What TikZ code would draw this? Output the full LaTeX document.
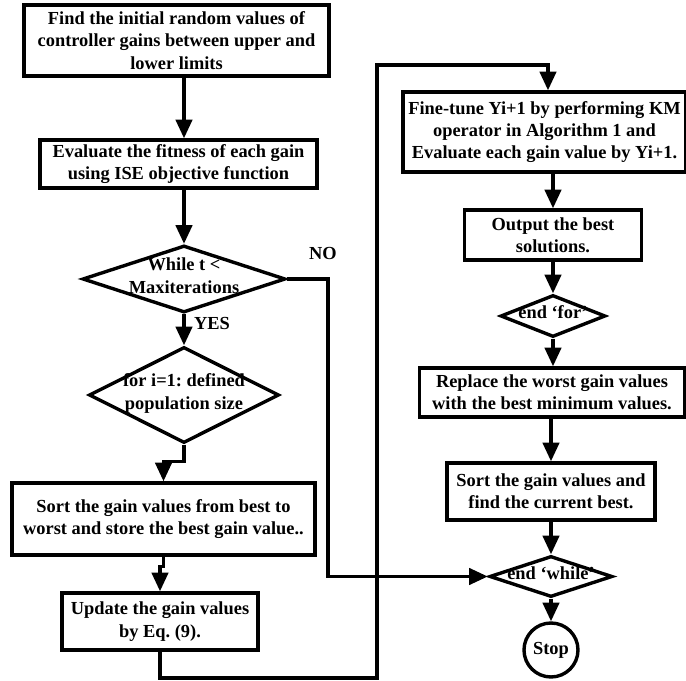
\documentclass[tikz,border=0pt]{standalone}
\usepackage{fontspec}
\setmainfont{Liberation Serif}
\usetikzlibrary{positioning,arrows.meta,shapes.geometric}
\newcommand{\dtext}[1]{\raisebox{-.3em}{\smash{\makebox[0pt]{\begin{tabular}{@{}c@{}}#1\end{tabular}}}}}

\begin{document}
\begin{tikzpicture}[x=0.03cm,y=-0.03cm,>={Triangle[length=16pt,width=14pt]},line width=2.9pt,
  txt/.style={font=\fontsize{15.7}{19}\selectfont\bfseries\frenchspacing},
  box/.style={txt,draw,rectangle,inner sep=1pt,align=center},
  dec/.style={txt,draw,diamond,inner sep=0pt}]
\useasboundingbox (0,0) rectangle (686,681);
\node[box,minimum width=9.15cm,minimum height=2.13cm] (init) at (176.5,40.5) {Find the initial random values of\\controller gains between upper and\\lower limits};
\node[box,minimum width=8.31cm,minimum height=1.44cm] (fit) at (178.5,164) {Evaluate the fitness of each gain\\using ISE objective function};
\node[dec,minimum width=6.09cm,minimum height=2.01cm] (while) at (184,279) {\dtext{While t <\\Maxiterations}};
\node[dec,minimum width=5.7cm,minimum height=2.88cm] (for) at (184,395) {\dtext{for i=1: defined\\population size}};
\node[box,minimum width=9.09cm,minimum height=2.16cm] (sort) at (163.5,519) {Sort the gain values from best to\\worst and store the best gain value..};
\node[box,minimum width=5.88cm,minimum height=1.71cm] (upd) at (160,621.5) {Update the gain values\\by Eq. (9).};
\node[box,minimum width=8.49cm,minimum height=2.4cm] (tune) at (544.5,132) {Fine-tune Yi+1 by performing KM\\operator in Algorithm 1 and\\Evaluate each gain value by Yi+1.};
\node[box,minimum width=5.31cm,minimum height=1.5cm] (out) at (553,235) {Output the best\\solutions.};
\node[dec,minimum width=3.15cm,minimum height=1.26cm] (endfor) at (553,316) {\dtext{end `for'}};
\node[box,minimum width=7.95cm,minimum height=1.47cm] (repl) at (552,392.5) {Replace the worst gain values\\with the best minimum values.};
\node[box,minimum width=6.24cm,minimum height=1.71cm] (cur) at (551,491.5) {Sort the gain values and\\find the current best.};
\node[dec,minimum width=3.69cm,minimum height=1.23cm] (endwhile) at (551,576.5) {\dtext{end `while'}};
\node[txt,draw,circle,minimum size=1.62cm,inner sep=0pt] (stop) at (551,650) {Stop};
\node[txt] (no) at (323,254) {NO};
\node[txt] (yes) at (212,324) {YES};
\coordinate (noc) at (328,576.5);
\coordinate (lb) at (377,678);
\coordinate (lt) at (377,65);
% left column
\draw[->] (while.north |- init.south) -- (while.north |- fit.north);
\draw[->] (while.north |- fit.south) -- (while.north);
\draw[->] (while.south) -- (for.north);
\draw[->] (for.south) -- ++(0,17) -| (sort.north);
\draw[->] (sort.south) -- ++(0,10) -| (upd.north);
% loop back to the right column
\draw[->] (upd.south) |- (lb) -- (lt) -| ([xshift=3.5*0.03cm]tune.north);
\draw[->] (while.east) -| (noc) -- (endwhile.west);
\fill (lt |- noc) circle (2.2pt);
% right column
\draw[->] (tune.south -| out) -- (out.north);
\draw[->] (out) -- (endfor);
\draw[->] (endfor) -- (endfor |- repl.north);
\draw[->] (repl.south -| cur) -- (cur.north);
\draw[->] (cur) -- (endwhile);
\draw[->] (endwhile) -- (stop);
\end{tikzpicture}
\end{document}
